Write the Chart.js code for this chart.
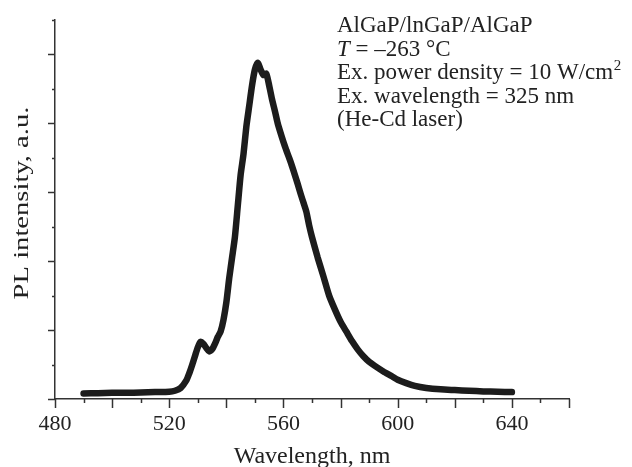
<!DOCTYPE html>
<html>
<head>
<meta charset="utf-8">
<script src="https://cdn.jsdelivr.net/npm/chart.js@4/dist/chart.umd.min.js"></script>
<style>
  html, body { margin: 0; padding: 0; background: #fff; }
</style>
</head>
<body>
<canvas id="c" width="632" height="467"></canvas>
<script>
// Wavelength (nm) and PL intensity (a.u.)
const wavelengths = [490, 495, 500, 505, 510, 515, 520, 522, 524, 526, 527, 528, 529, 530, 531, 532, 533, 534, 535, 536, 537, 538, 539, 540, 541, 542, 543, 544, 545, 546, 547, 548, 549, 550, 551, 552, 553, 554, 555, 556, 557, 558, 559, 560, 561, 562, 563, 564, 565, 566, 567, 568, 569, 570, 572, 574, 576, 578, 580, 582, 584, 586, 588, 590, 592, 595, 598, 600, 603, 606, 610, 615, 620, 625, 630, 635, 640];
const intensity = [0.08, 0.085, 0.09, 0.09, 0.095, 0.10, 0.105, 0.12, 0.16, 0.27, 0.37, 0.49, 0.62, 0.75, 0.83, 0.80, 0.74, 0.69, 0.72, 0.80, 0.90, 0.98, 1.15, 1.40, 1.75, 2.05, 2.35, 2.80, 3.25, 3.55, 3.95, 4.25, 4.55, 4.78, 4.88, 4.78, 4.70, 4.72, 4.55, 4.35, 4.18, 4.00, 3.86, 3.73, 3.61, 3.50, 3.38, 3.25, 3.12, 2.98, 2.85, 2.72, 2.52, 2.35, 2.05, 1.78, 1.50, 1.30, 1.12, 0.98, 0.84, 0.72, 0.62, 0.54, 0.48, 0.40, 0.33, 0.28, 0.23, 0.19, 0.16, 0.14, 0.13, 0.12, 0.11, 0.105, 0.10];
const xLabels = [480, 520, 560, 600, 640];
const xTitle = 'Wavelength, nm';
const yTitle = 'PL intensity, a.u.';
const noteLines = ['AlGaP/lnGaP/AlGaP', ' = –263 °C', 'Ex. power density = 10 W/cm', 'Ex. wavelength = 325 nm', '(He-Cd laser)'];

const AXIS = '#333';
const TEXT = '#222';
const FONT = '"Liberation Serif", "DejaVu Serif", serif';

const decorations = {
  id: 'decorations',
  afterDraw(chart) {
    const ctx = chart.ctx;
    const xs = chart.scales.x, ys = chart.scales.y;
    const area = chart.chartArea;
    ctx.save();
    // tick marks (major longer, minor shorter)
    ctx.strokeStyle = AXIS;
    ctx.lineWidth = 1.5;
    xs.ticks.forEach(t => {
      const px = Math.round(xs.getPixelForValue(t.value)) + 0.5;
      const len = (Math.round(t.value) % 20 === 0) ? 9 : 4;
      ctx.beginPath();
      ctx.moveTo(px, xs.top);
      ctx.lineTo(px, xs.top + len);
      ctx.stroke();
    });
    ys.ticks.forEach(t => {
      const py = Math.round(ys.getPixelForValue(t.value)) + 0.5;
      const isMajor = Math.abs(t.value - Math.round(t.value)) < 1e-6;
      const len = isMajor ? 7 : 3;
      ctx.beginPath();
      ctx.moveTo(ys.right - len, py);
      ctx.lineTo(ys.right, py);
      ctx.stroke();
    });

    ctx.fillStyle = TEXT;
    ctx.textBaseline = 'alphabetic';
    // x title
    ctx.font = '24px ' + FONT;
    ctx.textAlign = 'center';
    ctx.fillText(xTitle, (area.left + area.right) / 2, 463);
    // y title (rotated)
    ctx.save();
    ctx.translate(28, 203);
    ctx.rotate(-Math.PI / 2);
    ctx.scale(1.3, 1);
    ctx.font = '22px ' + FONT;
    ctx.textAlign = 'center';
    ctx.fillText(yTitle, 0, 0);
    ctx.restore();

    // annotation block
    ctx.textAlign = 'left';
    const x0 = 337, b0 = 32, lh = 23.5;
    ctx.font = '23px ' + FONT;
    ctx.fillText(noteLines[0], x0, b0);
    ctx.font = 'italic 23px ' + FONT;
    ctx.fillText('T', x0, b0 + lh);
    const wT = ctx.measureText('T').width;
    ctx.font = '23px ' + FONT;
    ctx.fillText(noteLines[1], x0 + wT, b0 + lh);
    ctx.fillText(noteLines[2], x0, b0 + 2 * lh);
    const w3 = ctx.measureText(noteLines[2]).width;
    ctx.font = '15px ' + FONT;
    ctx.fillText('2', x0 + w3 + 0.5, b0 + 2 * lh - 9);
    ctx.font = '23px ' + FONT;
    ctx.fillText(noteLines[3], x0, b0 + 3 * lh);
    ctx.fillText(noteLines[4], x0, b0 + 4 * lh);
    ctx.restore();
  }
};

new Chart(document.getElementById('c'), {
  type: 'line',
  data: {
    datasets: [{
      data: wavelengths.map((w, i) => ({ x: w, y: intensity[i] })),
      borderColor: '#1c1c1c',
      borderWidth: 6.5,
      borderJoinStyle: 'round',
      borderCapStyle: 'round',
      pointRadius: 0,
      tension: 0.2,
      fill: false
    }]
  },
  options: {
    responsive: false,
    animation: false,
    layout: { padding: { left: 0, right: 63, top: 20, bottom: 0 } },
    plugins: { legend: { display: false }, tooltip: { enabled: false } },
    scales: {
      x: {
        type: 'linear',
        min: 480, max: 660,
        afterFit(s) { s.height = 68; },
        border: { display: true, color: AXIS, width: 1.5 },
        grid: { display: true, drawOnChartArea: false, drawTicks: false },
        ticks: {
          stepSize: 10,
          autoSkip: false,
          maxRotation: 0,
          padding: 12,
          color: TEXT,
          font: { family: FONT, size: 22 },
          callback: v => xLabels.includes(v) ? String(v) : ''
        }
      },
      y: {
        min: 0, max: 5.5,
        afterFit(s) { s.width = 55; },
        border: { display: true, color: AXIS, width: 1.5 },
        grid: { display: true, drawOnChartArea: false, drawTicks: false },
        ticks: {
          stepSize: 0.5,
          autoSkip: false,
          callback: () => ''
        }
      }
    }
  },
  plugins: [decorations]
});
</script>
</body>
</html>
